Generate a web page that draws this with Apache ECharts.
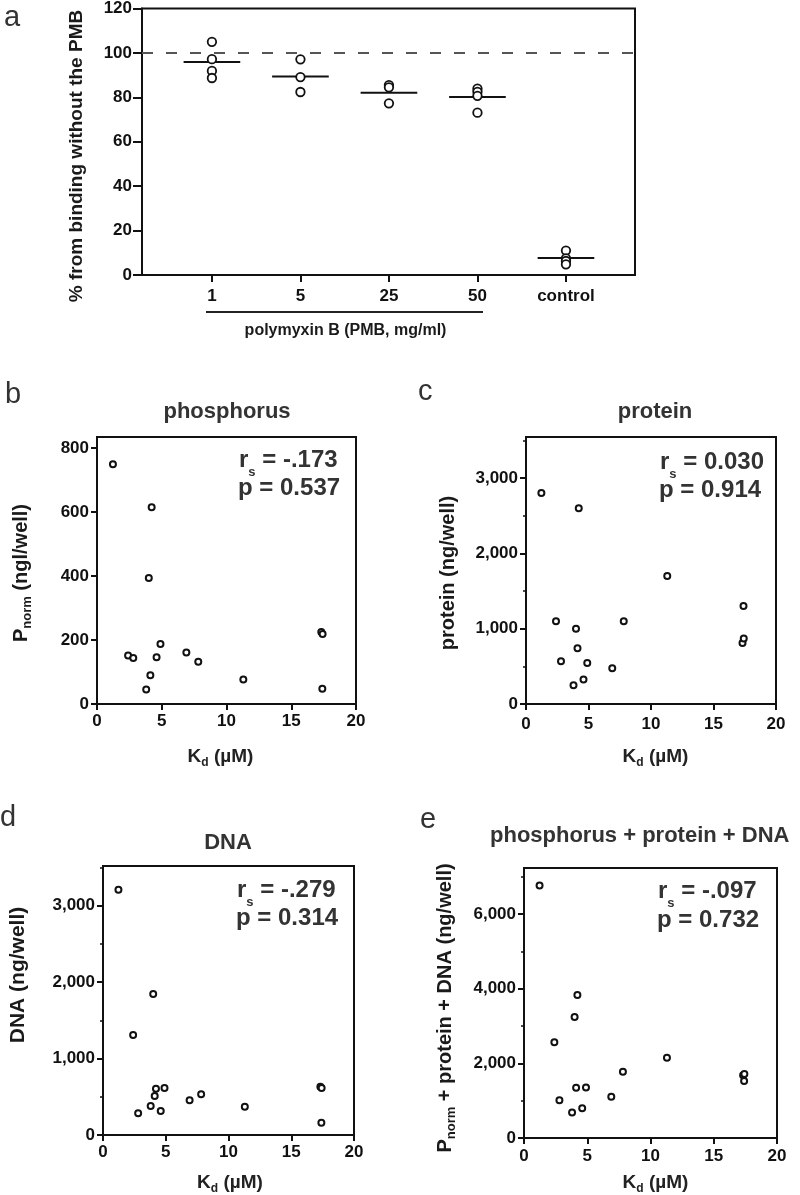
<!DOCTYPE html>
<html><head><meta charset="utf-8">
<script src="https://cdn.jsdelivr.net/npm/echarts@6/dist/echarts.min.js"></script>
<style>html,body{margin:0;padding:0;background:#fff}#c{width:800px;height:1195px}</style>
</head><body><div id="c"></div>
<script>
// ---------- DATA ----------
const groupLabels = ['1', '5', '25', '50', 'control'];
const groupValues = [
  [105.0, 97.2, 91.9, 88.7],
  [97.1, 89.1, 82.4],
  [85.5, 84.5, 77.3],
  [83.9, 82.5, 80.7, 73.1],
  [11.0, 7.5, 6.3, 4.8]
];
const groupMeans = [95.9, 89.4, 82.1, 80.1, 7.7];
const refLine = 100;
const aYTicks = [0, 20, 40, 60, 80, 100, 120];

const kd = [1.23, 2.4, 2.8, 3.8, 4.0, 4.12, 4.22, 4.6, 4.9, 6.9, 7.82, 11.3, 17.32, 17.42, 17.4];
const phosphorus = [750, 152, 144, 45, 394, 90, 615, 146, 188, 161, 132, 77, 225, 219, 48];
const protein = [2800, 1100, 567, 248, 1000, 740, 2600, 324, 544, 474, 1100, 1700, 810, 870, 1300];
const dna = [3210, 1308, 284, 379, 1845, 510, 606, 314, 615, 454, 532, 370, 632, 615, 161];
const total = [6760, 2563, 1013, 682, 3243, 1343, 3826, 798, 1352, 1102, 1773, 2149, 1680, 1711, 1523];

const kdTicks = [0, 5, 10, 15, 20];
const pTicks = [0, 200, 400, 600, 800];
const protTicks = [0, 1000, 2000, 3000];
const protMinor = [500, 1500, 2500, 3500];
const dnaTicks = [0, 1000, 2000, 3000];
const dnaMinor = [500, 1500, 2500, 3500];
const totTicks = [0, 2000, 4000, 6000];
const totMinor = [1000, 3000, 5000, 7000];

const stats = {
  b: ['-.173', '0.537'],
  c: ['0.030', '0.914'],
  d: ['-.279', '0.314'],
  e: ['-.097', '0.732']
};

// ---------- HELPERS ----------
const FF = '"Liberation Sans", Arial, sans-serif';
const BLACK = '#111';
const ctx = document.createElement('canvas').getContext('2d');
function tw(t, s, wgt) { ctx.font = (wgt || 'bold') + ' ' + s + 'px ' + FF; return ctx.measureText(t).width; }
function mkLabel(x, y, rot, align, parts, color) {
  const totalW = parts.reduce((a, p) => a + tw(p.t, p.s, p.w), 0);
  let cur = align === 'center' ? -totalW / 2 : 0;
  const children = parts.map(p => {
    const el = {
      type: 'text', x: cur, y: p.dy || 0,
      style: { text: p.t, font: (p.w || 'bold') + ' ' + p.s + 'px ' + FF, fill: color || '#222',
               textAlign: 'left', textVerticalAlign: 'middle', verticalAlign: 'middle' }
    };
    cur += tw(p.t, p.s, p.w);
    return el;
  });
  return { type: 'group', x: x, y: y, rotation: rot || 0, children: children };
}
const fmtComma = v => Number(v).toLocaleString('en-US');
const labelStyle = { fontSize: 17, fontWeight: 'bold', fontFamily: FF, color: BLACK };

function xKd(gi, margin) {
  return {
    gridIndex: gi, type: 'value', min: 0, max: 20, interval: 5,
    axisLine: { show: true, onZero: false, lineStyle: { color: BLACK, width: 2 } },
    axisTick: { show: true, length: 6, lineStyle: { color: BLACK, width: 2 } },
    axisLabel: Object.assign({ margin: margin }, labelStyle),
    splitLine: { show: false }
  };
}
function yMain(gi, max, ticks, fmt) {
  return {
    gridIndex: gi, type: 'value', min: 0, max: max, position: 'left',
    axisLine: { show: true, onZero: false, lineStyle: { color: BLACK, width: 2 } },
    axisTick: { show: true, length: 6, customValues: ticks, lineStyle: { color: BLACK, width: 2 } },
    axisLabel: Object.assign({ margin: 8, customValues: ticks, formatter: fmt || (v => String(v)) }, labelStyle),
    splitLine: { show: false }
  };
}
function yMinor(gi, max, ticks) {
  return {
    gridIndex: gi, type: 'value', min: 0, max: max, position: 'left', offset: 0,
    axisLine: { show: false },
    axisTick: { show: true, length: 3, customValues: ticks, lineStyle: { color: BLACK, width: 1.5 } },
    axisLabel: { show: false },
    splitLine: { show: false }
  };
}
function scatter(xi, yi, ys) {
  return {
    type: 'scatter', xAxisIndex: xi, yAxisIndex: yi, z: 3,
    symbol: 'circle', symbolSize: 6,
    itemStyle: { color: '#fff', borderColor: BLACK, borderWidth: 2, opacity: 1 },
    data: kd.map((k, i) => [k, ys[i]])
  };
}
function statBlock(x0, y1, y2, key) {
  return [
    mkLabel(x0, y1, 0, 'left', [
      { t: 'r', s: 24 }, { t: 's', s: 13, dy: 12 }, { t: ' = ' + stats[key][0], s: 24 }
    ], '#333'),
    mkLabel(x0 - 1, y2, 0, 'left', [{ t: 'p = ' + stats[key][1], s: 24 }], '#333')
  ];
}
function kdTitle(cx, cy) {
  return mkLabel(cx, cy, 0, 'center', [
    { t: 'K', s: 19 }, { t: 'd', s: 12, dy: 5.5 }, { t: ' (\u00b5M)', s: 19 }
  ], '#222');
}

// ---------- CHART ----------
const aData = [];
groupValues.forEach((arr, gi) => arr.forEach(v => aData.push([gi + 1, v])));

const chart = echarts.init(document.getElementById('c'));
const option = {
  animation: false,
  backgroundColor: '#fff',
  grid: [
    { left: 142, top: 8, width: 493, height: 267, show: true, borderColor: BLACK, borderWidth: 2 },
    { left: 97, top: 437, width: 259, height: 267, show: true, borderColor: BLACK, borderWidth: 2 },
    { left: 526, top: 437, width: 250, height: 267, show: true, borderColor: BLACK, borderWidth: 2 },
    { left: 103, top: 866, width: 251, height: 269, show: true, borderColor: BLACK, borderWidth: 2 },
    { left: 524, top: 868, width: 253, height: 270, show: true, borderColor: BLACK, borderWidth: 2 }
  ],
  xAxis: [
    {
      gridIndex: 0, type: 'value', min: 0.21, max: 5.78,
      axisLine: { show: true, onZero: false, lineStyle: { color: BLACK, width: 2 } },
      axisTick: { show: true, length: 7, customValues: [1, 2, 3, 4, 5], lineStyle: { color: BLACK, width: 2 } },
      axisLabel: Object.assign({ margin: 13, customValues: [1, 2, 3, 4, 5],
        formatter: v => groupLabels[Math.round(v) - 1] }, labelStyle),
      splitLine: { show: false }
    },
    xKd(1, 9), xKd(2, 12), xKd(3, 9), xKd(4, 10)
  ],
  yAxis: [
    {
      gridIndex: 0, type: 'value', min: 0, max: 120, interval: 20,
      axisLine: { show: true, onZero: false, lineStyle: { color: BLACK, width: 2 } },
      axisTick: { show: true, length: 9, lineStyle: { color: BLACK, width: 2 } },
      axisLabel: Object.assign({ margin: 10 }, labelStyle),
      splitLine: { show: false }
    },
    yMain(1, 835, pTicks),
    yMain(2, 3545, protTicks, fmtComma), yMinor(2, 3545, protMinor),
    yMain(3, 3520, dnaTicks, fmtComma), yMinor(3, 3520, dnaMinor),
    yMain(4, 7230, totTicks, fmtComma), yMinor(4, 7230, totMinor)
  ],
  series: [
    {
      type: 'scatter', xAxisIndex: 0, yAxisIndex: 0, z: 3,
      symbol: 'circle', symbolSize: 8.5,
      itemStyle: { color: '#fff', borderColor: BLACK, borderWidth: 1.8, opacity: 1 },
      data: aData,
      markLine: {
        silent: true, symbol: ['none', 'none'], label: { show: false },
        lineStyle: { type: [11, 13], color: '#555', width: 2 },
        data: [{ yAxis: refLine }]
      }
    },
    {
      type: 'custom', xAxisIndex: 0, yAxisIndex: 0, z: 2,
      data: groupMeans.map((m, i) => [i + 1, m]),
      encode: { x: 0, y: 1 },
      renderItem: (params, api) => {
        const x = api.value(0), y = api.value(1);
        const p1 = api.coord([x - 0.32, y]), p2 = api.coord([x + 0.32, y]);
        return { type: 'line', shape: { x1: p1[0], y1: p1[1], x2: p2[0], y2: p2[1] },
                 style: { stroke: BLACK, lineWidth: 2 } };
      }
    },
    scatter(1, 1, phosphorus),
    scatter(2, 2, protein),
    scatter(3, 4, dna),
    scatter(4, 6, total)
  ],
  graphic: [
    // panel letters
    mkLabel(4, 18, 0, 'left', [{ t: 'a', s: 29, w: 'normal' }], '#333'),
    mkLabel(5, 395, 0, 'left', [{ t: 'b', s: 29, w: 'normal' }], '#333'),
    mkLabel(418, 392, 0, 'left', [{ t: 'c', s: 29, w: 'normal' }], '#333'),
    mkLabel(0, 818, 0, 'left', [{ t: 'd', s: 29, w: 'normal' }], '#333'),
    mkLabel(420, 820, 0, 'left', [{ t: 'e', s: 29, w: 'normal' }], '#333'),
    // panel a texts
    mkLabel(77, 156, Math.PI / 2, 'center', [{ t: '% from binding without the PMB', s: 19 }], '#1a1a1a'),
    { type: 'line', shape: { x1: 206, y1: 312, x2: 483, y2: 312 }, style: { stroke: '#222', lineWidth: 2 } },
    mkLabel(345.5, 331, 0, 'center', [{ t: 'polymyxin B (PMB, mg/ml)', s: 16 }], '#1a1a1a'),
    // titles
    mkLabel(227, 412, 0, 'center', [{ t: 'phosphorus', s: 22 }], '#333'),
    mkLabel(655, 412, 0, 'center', [{ t: 'protein', s: 22 }], '#333'),
    mkLabel(228, 843, 0, 'center', [{ t: 'DNA', s: 22 }], '#333'),
    mkLabel(490, 836, 0, 'left', [{ t: 'phosphorus + protein + DNA', s: 22 }], '#333'),
    // y titles
    mkLabel(21, 573, Math.PI / 2, 'center', [
      { t: 'P', s: 20 }, { t: 'norm', s: 13, dy: 6 }, { t: ' (ngl/well)', s: 20 }
    ], '#1a1a1a'),
    mkLabel(448.5, 573, Math.PI / 2, 'center', [{ t: 'protein (ng/well)', s: 20 }], '#1a1a1a'),
    mkLabel(18, 975, Math.PI / 2, 'center', [{ t: 'DNA (ng/well)', s: 21 }], '#1a1a1a'),
    mkLabel(445, 1008, Math.PI / 2, 'center', [
      { t: 'P', s: 20 }, { t: 'norm', s: 13, dy: 6 }, { t: ' + protein + DNA (ng/well)', s: 20 }
    ], '#1a1a1a'),
    // x titles
    kdTitle(220.5, 757), kdTitle(655.5, 757), kdTitle(230, 1183), kdTitle(655.5, 1183),
    // stats
    ...statBlock(239, 460, 488, 'b'),
    ...statBlock(660, 462, 490, 'c'),
    ...statBlock(237, 890, 918, 'd'),
    ...statBlock(658, 891, 920, 'e')
  ]
};
chart.setOption(option);
</script>
</body></html>
